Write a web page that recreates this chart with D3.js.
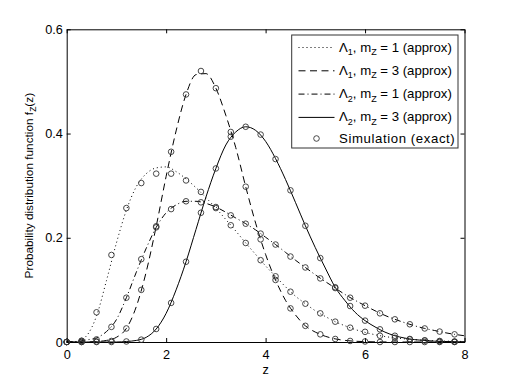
<!DOCTYPE html>
<html>
<head>
<meta charset="utf-8">
<script src="https://cdn.jsdelivr.net/npm/d3@7"></script>
<style>
  html, body { margin: 0; padding: 0; background: #fff; }
  svg { display: block; font-family: "Liberation Sans", Arial, Helvetica, sans-serif; }
</style>
</head>
<body>
<svg id="chart" width="512" height="385"></svg>
<script>
// ---------- data ----------
const xTicks = [0, 2, 4, 6, 8];
const yTicks = [0, 0.2, 0.4, 0.6];
const xTickLabels = ["0", "2", "4", "6", "8"];
const yTickLabels = ["0", "0.2", "0.4", "0.6"];
const xLabel = "z";
const yLabel = "Probability distribution function f";

// z grid for the approximation curves
const zCurve = [0, 0.2, 0.4, 0.6, 0.8, 1.0, 1.2, 1.4, 1.6, 1.8, 2.0, 2.2, 2.4, 2.6, 2.8, 3.0, 3.2, 3.4, 3.6, 3.8,
  4.0, 4.2, 4.4, 4.6, 4.8, 5.0, 5.2, 5.4, 5.6, 5.8, 6.0, 6.2, 6.4, 6.6, 6.8, 7.0, 7.2, 7.4, 7.6, 7.8, 8.0];

// Lambda1, mZ = 1 (approx) - dotted
const curveL1m1 = [0, 0.001, 0.012, 0.05, 0.118, 0.19, 0.253, 0.298, 0.323, 0.334, 0.336, 0.327, 0.313, 0.296, 0.277,
  0.257, 0.235, 0.213, 0.190, 0.168, 0.146, 0.126, 0.106, 0.088, 0.0735, 0.060, 0.049, 0.039, 0.031, 0.024,
  0.0185, 0.014, 0.0105, 0.008, 0.006, 0.0045, 0.0033, 0.0024, 0.0018, 0.0013, 0.001];
// Lambda1, mZ = 3 (approx) - dashed
const curveL1m3 = [0, 0, 0, 0.001, 0.003, 0.009, 0.026, 0.068, 0.135, 0.222, 0.318, 0.405, 0.475, 0.513, 0.515,
  0.487, 0.435, 0.373, 0.298, 0.228, 0.168, 0.119, 0.080, 0.052, 0.031, 0.019, 0.011, 0.006, 0.003, 0.0015,
  0.0007, 0.0003, 0.0001, 0, 0, 0, 0, 0, 0, 0, 0];
// Lambda2, mZ = 1 (approx) - dash-dot
const curveL2m1 = [0, 0.001, 0.004, 0.008, 0.02, 0.043, 0.085, 0.134, 0.180, 0.220, 0.248, 0.263, 0.270, 0.270, 0.266,
  0.259, 0.249, 0.238, 0.227, 0.215, 0.201, 0.187, 0.172, 0.157, 0.143, 0.129, 0.116, 0.1035, 0.091, 0.080,
  0.0697, 0.060, 0.051, 0.0435, 0.037, 0.031, 0.026, 0.022, 0.018, 0.0147, 0.012];
// Lambda2, mZ = 3 (approx) - solid
const curveL2m3 = [0, 0, 0, 0, 0, 0, 0.001, 0.003, 0.009, 0.025, 0.055, 0.100, 0.154, 0.216, 0.278,
  0.333, 0.378, 0.403, 0.413, 0.406, 0.385, 0.352, 0.312, 0.268, 0.223, 0.181, 0.142, 0.105, 0.079, 0.057,
  0.041, 0.029, 0.019, 0.012, 0.0075, 0.0045, 0.003, 0.0015, 0.001, 0.0005, 0.0003];

// simulation (exact) points
const zSim = [0, 0.3, 0.6, 0.9, 1.2, 1.5, 1.8, 2.1, 2.4, 2.7, 3.0, 3.3, 3.6, 3.9, 4.2, 4.5, 4.8, 5.1, 5.4, 5.7,
  6.0, 6.3, 6.6, 6.9, 7.2, 7.5, 7.8];
const simL1m1 = [0, 0.002, 0.057, 0.167, 0.257, 0.305, 0.323, 0.323, 0.310, 0.288, 0.257, 0.224, 0.190, 0.157,
  0.126, 0.0965, 0.0735, 0.055, 0.039, 0.0275, 0.0195, 0.012, 0.008, 0.005, 0.003, 0.002, 0.001];
const simL1m3 = [0, 0, 0.001, 0.002, 0.026, 0.100, 0.222, 0.365, 0.475, 0.520, 0.487, 0.403, 0.298, 0.197,
  0.119, 0.0645, 0.031, 0.0147, 0.0058, 0.002, 0.001, 0, 0, 0, 0, 0, 0];
const simL2m1 = [0, 0.0025, 0.005, 0.029, 0.085, 0.159, 0.220, 0.255, 0.270, 0.268, 0.259, 0.243, 0.227, 0.208,
  0.187, 0.164, 0.143, 0.122, 0.1035, 0.085, 0.0697, 0.055, 0.0435, 0.034, 0.026, 0.020, 0.0147];
const simL2m3 = [0, 0, 0, 0, 0.001, 0.0045, 0.025, 0.075, 0.154, 0.248, 0.333, 0.394, 0.413, 0.398,
  0.351, 0.291, 0.223, 0.161, 0.105, 0.069, 0.041, 0.0243, 0.012, 0.0058, 0.003, 0.001, 0.0005];

const seriesNames = ["1", "1", "2", "2"];       // Lambda subscript
const seriesM = ["1", "3", "1", "3"];           // m_Z value
const simLabel = "Simulation (exact)";

// ---------- layout ----------
const svg = d3.select("#chart");
const L = 66.7, R = 464.5, T = 29.3, B = 342;
const x = d3.scaleLinear().domain([0, 8]).range([L, R]);
const y = d3.scaleLinear().domain([0, 0.6]).range([B, T]);
const fontSize = 12.7;
const legFont = 13.2;

const styles = [
  { dash: "1,3" },
  { dash: "7,4.5" },
  { dash: "6,3,1,3" },
  { dash: null }
];

// ---------- axes ----------
const gx = svg.append("g").attr("transform", `translate(0,${B})`)
  .call(d3.axisBottom(x).tickValues(xTicks).tickSize(-4).tickSizeOuter(0).tickPadding(7.5)
    .tickFormat((d, i) => xTickLabels[i]));
const gy = svg.append("g").attr("transform", `translate(${L},0)`)
  .call(d3.axisLeft(y).tickValues(yTicks).tickSize(-4).tickSizeOuter(0).tickPadding(3.8)
    .tickFormat((d, i) => yTickLabels[i]));
const gt = svg.append("g").attr("transform", `translate(0,${T})`)
  .call(d3.axisTop(x).tickValues(xTicks).tickSize(-4).tickSizeOuter(0).tickFormat(""));
const gr = svg.append("g").attr("transform", `translate(${R},0)`)
  .call(d3.axisRight(y).tickValues(yTicks).tickSize(-4).tickSizeOuter(0).tickFormat(""));
[gx, gy, gt, gr].forEach(g => {
  g.selectAll("path.domain").attr("stroke", "#000").attr("stroke-width", 1);
  g.selectAll(".tick line").attr("stroke", "#000").attr("stroke-width", 1);
  g.selectAll(".tick text").attr("font-size", fontSize).attr("fill", "#000")
    .attr("font-family", "'Liberation Sans', Arial, sans-serif");
});

// axis labels
svg.append("text").attr("x", (L + R) / 2).attr("y", 374).attr("text-anchor", "middle")
  .attr("font-size", fontSize).text(xLabel);
const yl = svg.append("text").attr("transform", `translate(33,${(T + B) / 2}) rotate(-90)`)
  .attr("text-anchor", "middle").attr("font-size", 11.8);
yl.append("tspan").text(yLabel);
yl.append("tspan").attr("dy", 3).attr("font-size", 8.5).text("Z");
yl.append("tspan").attr("dy", -3).text("(z)");

// ---------- curves ----------
const plot = svg.append("g");
const curves = [curveL1m1, curveL1m3, curveL2m1, curveL2m3];
const line = d3.line().x(d => x(d[0])).y(d => y(d[1])).curve(d3.curveMonotoneX);
curves.forEach((vals, i) => {
  plot.append("path")
    .datum(zCurve.map((z, j) => [z, vals[j]]))
    .attr("d", line)
    .attr("fill", "none").attr("stroke", "#000").attr("stroke-width", 1)
    .attr("stroke-dasharray", styles[i].dash);
});

// ---------- simulation markers ----------
const sims = [simL1m1, simL1m3, simL2m1, simL2m3];
sims.forEach(vals => {
  plot.selectAll(null).data(zSim.map((z, j) => [z, vals[j]])).enter()
    .append("circle")
    .attr("cx", d => x(d[0])).attr("cy", d => y(d[1])).attr("r", 2.8)
    .attr("fill", "none").attr("stroke", "#333").attr("stroke-width", 0.9);
});

// ---------- legend ----------
const lg = svg.append("g");
lg.append("rect").attr("x", 291.7).attr("y", 35).attr("width", 166.3).attr("height", 113)
  .attr("fill", "#fff").attr("stroke", "#333").attr("stroke-width", 1);
const rowY = [47.5, 70.8, 94.1, 117.4, 138.5];
for (let i = 0; i < 4; i++) {
  lg.append("line").attr("x1", 298.5).attr("x2", 334.5).attr("y1", rowY[i]).attr("y2", rowY[i])
    .attr("stroke", "#000").attr("stroke-width", 1).attr("stroke-dasharray", styles[i].dash);
  const t = lg.append("text").attr("x", 339).attr("y", rowY[i] + 4).attr("font-size", legFont);
  t.append("tspan").text("\u039B");
  t.append("tspan").attr("dy", 3.5).attr("font-size", 9).text(seriesNames[i]);
  t.append("tspan").attr("dy", -3.5).text(", m");
  t.append("tspan").attr("dy", 3.5).attr("font-size", 9).text("Z");
  t.append("tspan").attr("dy", -3.5).text(` = ${seriesM[i]} (approx)`);
}
lg.append("circle").attr("cx", 316.5).attr("cy", rowY[4]).attr("r", 2.8)
  .attr("fill", "none").attr("stroke", "#333").attr("stroke-width", 0.9);
lg.append("text").attr("x", 339).attr("y", rowY[4] + 4.5).attr("font-size", legFont)
  .attr("letter-spacing", 0.6).text(simLabel);
</script>
</body>
</html>
